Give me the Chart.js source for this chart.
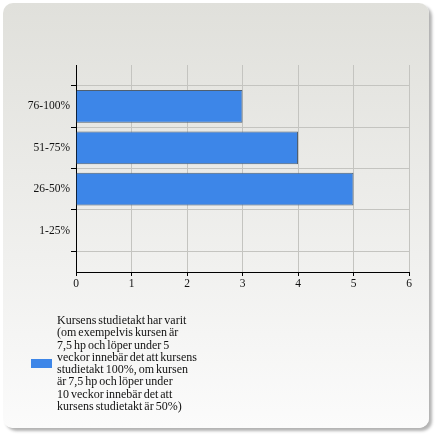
<!DOCTYPE html>
<html>
<head>
<meta charset="utf-8">
<script src="https://cdn.jsdelivr.net/npm/chart.js@4/dist/chart.umd.min.js"></script>
<style>
  html, body { margin: 0; padding: 0; background: #fff; }
  body { width: 441px; height: 441px; position: relative; overflow: hidden; }
  .panel {
    position: absolute; left: 3px; top: 3px; width: 426px; height: 425px;
    border-radius: 10px;
    background: linear-gradient(#e0e0db, #fbfbfb);
    box-shadow: 3px 3px 3px rgba(0, 0, 0, 0.3);
  }
  #chart { position: absolute; left: 0; top: 0; }
  .legend {
    position: absolute; left: 31px; top: 314px;
    font-family: "Liberation Serif", serif; font-size: 12px; line-height: 12.3px;
    color: #111; word-spacing: -1px;
  }
  .legend .swatch {
    position: absolute; left: 0; top: 45px; width: 21px; height: 9px;
    background: #3d86e8;
  }
  .legend .text { margin-left: 26px; white-space: pre; }
</style>
</head>
<body>
<div class="panel"></div>
<canvas id="chart" width="441" height="441"></canvas>
<div class="legend">
  <span class="swatch"></span>
  <div class="text" id="legendText"></div>
</div>
<script>
const categories = ['76-100%', '51-75%', '26-50%', '1-25%'];
const values = [3, 4, 5, 0];
const xTicks = [0, 1, 2, 3, 4, 5, 6];
const seriesName = [
  'Kursens studietakt har varit',
  '(om exempelvis kursen är',
  '7,5 hp och löper under 5',
  'veckor innebär det att kursens',
  'studietakt 100%, om kursen',
  'är 7,5 hp och löper under',
  '10 veckor innebär det att',
  'kursens studietakt är 50%)'
];

document.getElementById('legendText').textContent = seriesName.join('\n');

// empty slot above and below the categories, like the original layout
const labels = [''].concat(categories, ['']);
const data = [null].concat(values, [null]);

const tickFont = { family: 'Liberation Serif', size: 11.5 };

new Chart(document.getElementById('chart'), {
  type: 'bar',
  data: {
    labels: labels,
    datasets: [{
      label: seriesName.join(' '),
      data: data,
      backgroundColor: '#3d86e8',
      borderColor: '#4f5f70',
      borderWidth: 1,
      borderSkipped: 'start',
      barPercentage: 0.79,
      categoryPercentage: 1
    }]
  },
  options: {
    indexAxis: 'y',
    responsive: false,
    devicePixelRatio: 1,
    animation: false,
    layout: {
      padding: { left: 0, top: 65, right: 32, bottom: 149 }
    },
    plugins: {
      legend: { display: false },
      tooltip: { enabled: false }
    },
    scales: {
      x: {
        min: xTicks[0],
        max: xTicks[xTicks.length - 1],
        afterBuildTicks: scale => { scale.ticks = xTicks.map(v => ({ value: v })); },
        afterFit: scale => { scale.height = 20; },
        grid: { color: '#c4c4c0', tickColor: '#000', tickLength: 4, lineWidth: 1 },
        border: { color: '#000', width: 1 },
        ticks: { font: tickFont, color: '#111', padding: 1 }
      },
      y: {
        offset: false,
        afterFit: scale => { scale.width = 76; },
        grid: { color: '#c4c4c0', tickColor: '#000', tickLength: 5, lineWidth: 1 },
        border: { color: '#000', width: 1 },
        ticks: { font: tickFont, color: '#111', padding: 1, autoSkip: false }
      }
    }
  }
});
</script>
</body>
</html>
